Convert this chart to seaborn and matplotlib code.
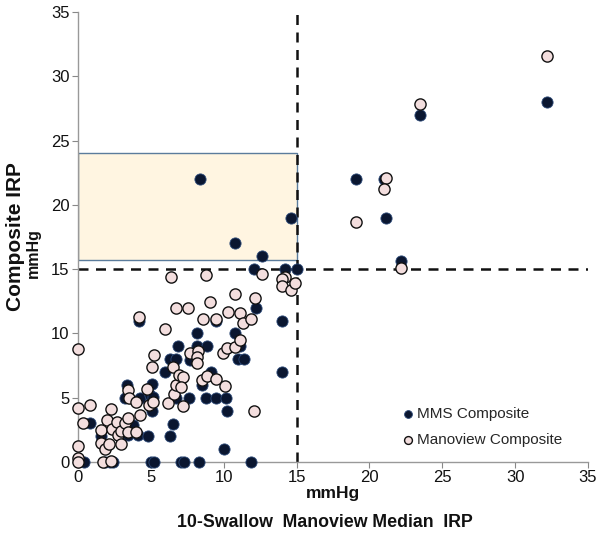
import matplotlib
matplotlib.use("Agg")
import matplotlib.pyplot as plt
import seaborn as sns
import pandas as pd
from matplotlib.patches import Rectangle

# ---- data ----
mms_x = [0.4, 0.85, 1.6, 1.85, 2.2, 2.4, 3.35, 3.2, 3.45, 3.75, 3.45, 4.1, 4.8,
         4.2, 4.25, 4.95, 5.05, 5.15, 5.05, 5.0, 5.2, 6.0, 6.3, 6.3, 6.75, 6.55,
         6.85, 6.7, 7.1, 7.3, 7.6, 7.7, 8.2, 8.2, 8.85, 8.3, 8.5, 8.8, 9.45, 10.15,
         9.1, 10.0, 10.25, 10.8, 11.1, 11.0, 11.4, 11.9, 12.2, 14.0, 14.0, 9.45,
         12.1, 14.2, 15.0, 8.35, 10.8, 12.6, 14.6,
         19.05, 21.0, 21.15, 22.2, 23.5, 32.2]
mms_y = [0.0, 3.0, 2.0, 0.0, 0.0, 0.0, 6.0, 5.0, 3.0, 2.9, 2.1, 2.1, 2.0,
         11.0, 5.0, 5.2, 6.05, 5.05, 4.0, 0.0, 0.0, 7.0, 2.0, 8.0, 8.0, 2.95,
         9.0, 5.0, 0.0, 0.0, 5.0, 7.95, 10.0, 9.0, 9.0, 0.0, 6.0, 5.0, 5.0, 5.0,
         7.0, 1.0, 4.0, 10.0, 9.0, 8.0, 8.0, 0.0, 12.0, 11.0, 7.0, 11.0,
         15.0, 15.0, 15.0, 22.0, 17.0, 16.0, 19.0,
         22.0, 22.0, 19.0, 15.6, 27.0, 28.0]

mano_x = [0.0, 0.0, 0.0, 0.0, 0.0, 0.35, 0.85, 1.55, 1.55, 1.7, 1.85, 2.1, 2.25,
          2.0, 2.3, 2.7, 2.75, 2.95, 2.95, 3.2, 3.45, 3.45, 3.95, 3.4, 3.5, 4.0,
          4.25, 4.2, 4.75, 4.9, 5.15, 5.1, 5.2, 5.95, 6.2, 6.55, 6.6, 6.75, 6.95,
          7.2, 7.2, 7.1, 6.75, 7.55, 7.7, 8.25, 8.2, 8.2, 8.55, 8.5, 8.85, 9.05,
          9.45, 9.45, 10.1, 9.95, 10.2, 10.3, 10.8, 10.8, 11.1, 11.1, 11.3, 11.85,
          12.05, 12.15, 2.25,
          6.4, 8.8, 12.6, 14.2, 14.0, 14.0, 14.6, 14.9,
          19.05, 21.15, 21.0, 22.2, 23.5, 32.2]
mano_y = [8.8, 4.2, 1.25, 0.3, 0.0, 3.05, 4.45, 2.5, 1.5, 0.0, 1.05, 1.4, 4.15,
          3.25, 2.6, 3.1, 2.1, 1.4, 2.45, 3.0, 3.45, 2.35, 2.35, 5.6, 4.95, 4.7,
          3.65, 11.3, 5.65, 4.4, 4.7, 7.35, 8.35, 10.35, 4.6, 7.35, 5.3, 6.0, 6.75,
          6.6, 4.35, 5.85, 11.95, 11.95, 8.5, 8.6, 8.2, 7.7, 11.15, 6.4, 6.65, 12.45,
          11.1, 6.45, 5.9, 8.45, 8.9, 11.65, 13.05, 8.95, 9.5, 11.6, 10.8, 11.1,
          4.0, 12.75, 0.1,
          14.4, 14.55, 14.6, 14.4, 14.2, 13.7, 13.4, 13.9,
          18.7, 22.1, 21.2, 15.1, 27.8, 31.6]

series = ["MMS Composite", "Manoview Composite"]
x_ticks = [0, 5, 10, 15, 20, 25, 30, 35]
y_ticks = [0, 5, 10, 15, 20, 25, 30, 35]
threshold = 15
box_y = [15.7, 24.0]

df = pd.concat([
    pd.DataFrame({"x": mms_x, "y": mms_y, "series": series[0]}),
    pd.DataFrame({"x": mano_x, "y": mano_y, "series": series[1]}),
], ignore_index=True)

sns.set_theme(style="white")
plt.rcParams["font.family"] = ["Liberation Sans", "DejaVu Sans"]

fig = plt.figure(figsize=(6.0, 5.41), dpi=100)
ax = fig.add_axes([0.13, 0.146, 0.85, 0.832])

ax.add_patch(Rectangle((0, box_y[0]), threshold, box_y[1] - box_y[0],
                       facecolor="#fff5e1", edgecolor="#5b7c9c", lw=1.0, zorder=1))

ax.axvline(threshold, color="#111111", lw=1.8, ls=(0, (4, 3)), zorder=2)
ax.axhline(threshold, color="#111111", lw=1.8, ls=(0, (4, 3)), zorder=2)

sns.scatterplot(data=df[df.series == series[0]], x="x", y="y", ax=ax,
                color="#0a1630", edgecolor="#2d4a78", linewidth=0.6, s=65,
                zorder=3, clip_on=False, label=series[0])
sns.scatterplot(data=df[df.series == series[1]], x="x", y="y", ax=ax,
                color="#f3dede", edgecolor="#111111", linewidth=1.0, s=65,
                zorder=4, clip_on=False, label=series[1])

ax.set_xlim(0, 35)
ax.set_ylim(0, 35)
ax.set_xticks(x_ticks)
ax.set_yticks(y_ticks)
ax.tick_params(axis="both", labelsize=12, colors="#888888", length=4,
               width=0.8, direction="out", labelcolor="#111111", bottom=True,
               left=True, pad=2)
for s in ["top", "right"]:
    ax.spines[s].set_visible(False)
for s in ["left", "bottom"]:
    ax.spines[s].set_color("#999999")
    ax.spines[s].set_linewidth(1.0)

ax.set_xlabel("")
ax.set_ylabel("")
fig.text(0.555, 0.087, "mmHg", ha="center", va="center", fontsize=12.5,
         fontweight="bold", color="#111111")
fig.text(0.542, 0.034, "10-Swallow  Manoview Median  IRP", ha="center",
         va="center", fontsize=12.8, fontweight="bold", color="#111111")
fig.text(0.026, 0.562, "Composite IRP", rotation=90, ha="center", va="center",
         fontsize=15, fontweight="bold", color="#111111")
fig.text(0.056, 0.532, "mmHg", rotation=90, ha="center", va="center",
         fontsize=11.5, fontweight="bold", color="#111111")

leg = ax.legend(loc="upper left", bbox_to_anchor=(0.62, 0.135), frameon=False,
                fontsize=11, handletextpad=0.1, markerscale=0.7,
                borderaxespad=0, labelspacing=0.75, handlelength=1.0)

fig.savefig("out.png", dpi=100, facecolor="white")
